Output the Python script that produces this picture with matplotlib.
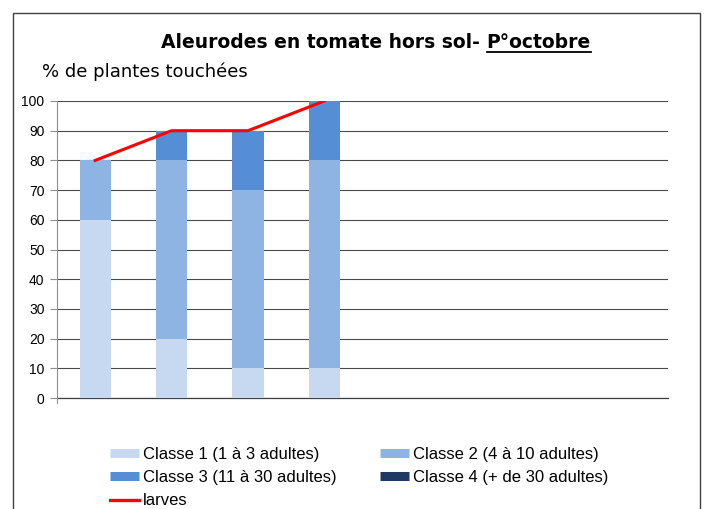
import matplotlib
matplotlib.use("Agg")
import matplotlib.pyplot as plt
from matplotlib.patches import Rectangle
from matplotlib.lines import Line2D
import numpy as np

categories = ["1", "2", "3", "4", "5", "6", "7", "8"]
classe1 = [60, 20, 10, 10, 0, 0, 0, 0]
classe2 = [20, 60, 60, 70, 0, 0, 0, 0]
classe3 = [0, 10, 20, 20, 0, 0, 0, 0]
classe4 = [0, 0, 0, 0, 0, 0, 0, 0]
larves = [80, 90, 90, 100]

labels = ["Classe 1 (1 à 3 adultes)", "Classe 2 (4 à 10 adultes)",
          "Classe 3 (11 à 30 adultes)", "Classe 4 (+ de 30 adultes)", "larves"]
colors = ["#C6D9F1", "#8EB4E3", "#558ED5", "#1F3864"]

plt.rcParams['font.family'] = ['Liberation Sans', 'DejaVu Sans']

fig = plt.figure(figsize=(7.04, 5.09), dpi=100)
ax = fig.add_axes([57/704, 1-398/509, (668-57)/704, (398-101)/509])

x = np.arange(len(categories))
bottom = np.zeros(len(categories))
handles = []
for vals, c, lab in zip([classe1, classe2, classe3, classe4], colors, labels[:4]):
    ax.bar(x, vals, width=0.41, bottom=bottom, color=c, label=lab, zorder=3)
    bottom += np.array(vals)
    handles.append(Line2D([0], [0], color=c, lw=6.5, solid_capstyle='butt'))
ax.plot(x[:len(larves)], larves, color="#FF0000", lw=2.2, zorder=4)
handles.append(Line2D([0], [0], color="#FF0000", lw=2.4))

ax.set_xlim(-0.5, len(categories)-0.5)
ax.set_ylim(0, 100)
ax.set_yticks(range(0, 101, 10))
ax.set_xticks([])
ax.yaxis.grid(True, color="#4a4a4a", lw=0.8, zorder=0)
for s in ["top", "right"]:
    ax.spines[s].set_visible(False)
ax.spines["left"].set_color("#909090")
ax.spines["left"].set_bounds(-1.8, 100)
ax.spines["bottom"].set_color("#404040")
ax.spines["bottom"].set_linewidth(0.9)
ax.spines["left"].set_zorder(5)
ax.tick_params(axis='y', length=5, color="#909090", labelsize=10, pad=4)

order_rows = [handles[0], handles[2], handles[4], handles[1], handles[3]]
order_labels = [labels[0], labels[2], labels[4], labels[1], labels[3]]
fig.legend(order_rows, order_labels, loc="upper left", bbox_to_anchor=(103/704, 1-440/509),
           ncol=2, frameon=False, fontsize=12, handlelength=1.75,
           handletextpad=0.25, columnspacing=2.6, labelspacing=0.5,
           borderaxespad=0)

# Title
t1 = fig.text(0, 0, "Aleurodes en tomate hors sol- ", fontsize=13.5, fontweight='bold',
              family=['DejaVu Sans'], va='baseline')
t2 = fig.text(0, 0, "P°octobre", fontsize=13.5, fontweight='bold',
              family=['DejaVu Sans'], va='baseline')
fig.canvas.draw()
r = fig.canvas.get_renderer()
w1 = t1.get_window_extent(r).width
w2 = t2.get_window_extent(r).width
total = w1 + w2
cx = 376
base_y = 509 - 48
x0 = cx - total/2
t1.set_position((x0/704, base_y/509))
t2.set_position(((x0 + w1)/704, base_y/509))
fig.add_artist(Line2D([(x0 + w1)/704, (x0 + w1 + w2)/704], [(base_y-4)/509]*2,
                      color='black', lw=1.3))

fig.text(42/704, 1-72/509, "% de plantes touchées", fontsize=13,
         family=['DejaVu Sans'], va='center', ha='left')

# outer border
fig.add_artist(Rectangle((13/704, -0.1), (700-13)/704, (509-13)/509 + 0.1,
                         fill=False, edgecolor="#404040", lw=1.0,
                         transform=fig.transFigure))

fig.savefig("out.png", dpi=100)
